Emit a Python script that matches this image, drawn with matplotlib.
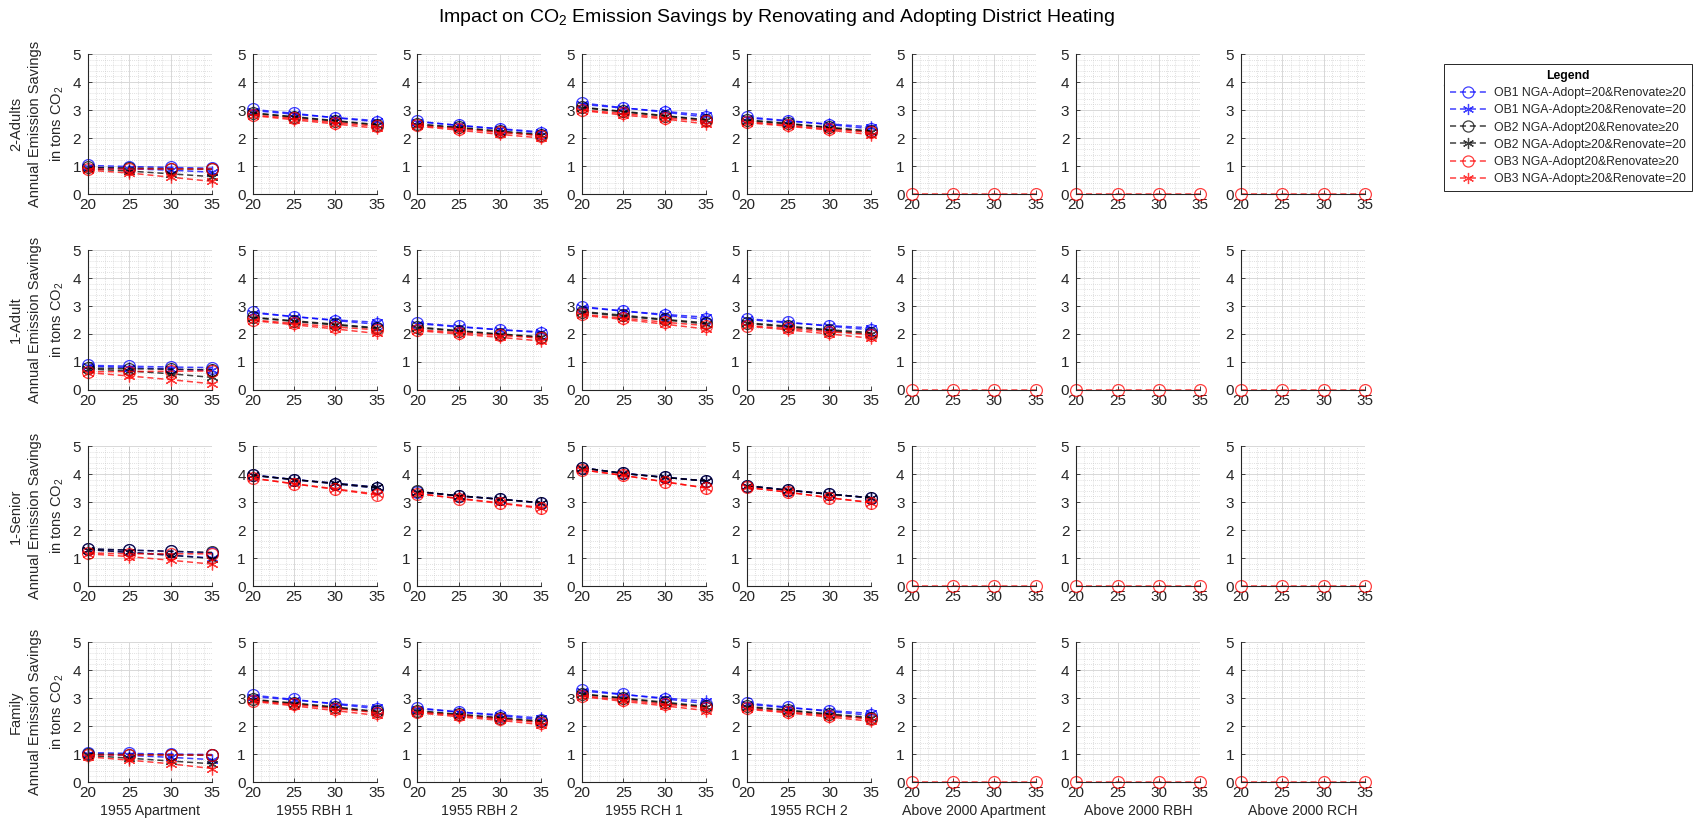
import numpy as np
import matplotlib
matplotlib.use("Agg")
import matplotlib.pyplot as plt
from matplotlib.ticker import MultipleLocator
from matplotlib.lines import Line2D

plt.rcParams['font.family'] = ['Liberation Sans', 'DejaVu Sans']
plt.rcParams['mathtext.fontset'] = 'custom'
plt.rcParams['mathtext.rm'] = 'Liberation Sans'
plt.rcParams['mathtext.it'] = 'Liberation Sans:italic'
plt.rcParams['mathtext.bf'] = 'Liberation Sans:bold'

renovation_years = [20, 25, 30, 35]
households = ['2-Adults', '1-Adult', '1-Senior', 'Family']
buildings = ['1955 Apartment', '1955 RBH 1', '1955 RBH 2', '1955 RCH 1', '1955 RCH 2',
             'Above 2000 Apartment', 'Above 2000 RBH', 'Above 2000 RCH']
series_labels = ['OB1 NGA-Adopt=20&Renovate≥20', 'OB1 NGA-Adopt≥20&Renovate=20',
                 'OB2 NGA-Adopt20&Renovate≥20', 'OB2 NGA-Adopt≥20&Renovate=20',
                 'OB3 NGA-Adopt20&Renovate≥20', 'OB3 NGA-Adopt≥20&Renovate=20']

# Savings [t CO2 / year] per household (rows) and 1955 building (columns)
ob1_adopt20 = [
    [[1.02, 0.98, 0.95, 0.92], [3.02, 2.88, 2.72, 2.58], [2.60, 2.45, 2.32, 2.18], [3.25, 3.08, 2.92, 2.75], [2.75, 2.62, 2.48, 2.33]],
    [[0.88, 0.85, 0.82, 0.80], [2.78, 2.62, 2.48, 2.35], [2.40, 2.27, 2.15, 2.05], [2.98, 2.82, 2.67, 2.52], [2.55, 2.42, 2.28, 2.15]],
    [[1.32, 1.28, 1.24, 1.18], [3.97, 3.80, 3.65, 3.50], [3.37, 3.22, 3.10, 2.97], [4.22, 4.02, 3.88, 3.75], [3.58, 3.42, 3.28, 3.15]],
    [[1.05, 1.02, 1.00, 0.98], [3.10, 2.95, 2.78, 2.62], [2.65, 2.50, 2.37, 2.22], [3.30, 3.13, 2.97, 2.80], [2.82, 2.67, 2.52, 2.38]],
]
ob1_renovate20 = [
    [[0.95, 0.90, 0.85, 0.78], [2.98, 2.85, 2.73, 2.62], [2.58, 2.45, 2.33, 2.22], [3.20, 3.07, 2.95, 2.82], [2.72, 2.60, 2.50, 2.40]],
    [[0.85, 0.80, 0.75, 0.70], [2.75, 2.62, 2.50, 2.42], [2.37, 2.25, 2.15, 2.08], [2.95, 2.82, 2.70, 2.60], [2.52, 2.40, 2.30, 2.22]],
    [[1.30, 1.20, 1.10, 1.00], [3.95, 3.80, 3.67, 3.53], [3.37, 3.22, 3.10, 2.97], [4.22, 4.02, 3.88, 3.75], [3.58, 3.42, 3.28, 3.15]],
    [[1.00, 0.95, 0.88, 0.80], [3.05, 2.93, 2.80, 2.68], [2.62, 2.50, 2.40, 2.28], [3.25, 3.12, 3.00, 2.88], [2.78, 2.65, 2.55, 2.45]],
]
ob2_adopt20 = [
    [[0.95, 0.93, 0.90, 0.88], [2.90, 2.76, 2.62, 2.48], [2.50, 2.38, 2.25, 2.12], [3.10, 2.95, 2.80, 2.65], [2.65, 2.52, 2.38, 2.25]],
    [[0.78, 0.76, 0.74, 0.72], [2.60, 2.47, 2.35, 2.22], [2.25, 2.12, 2.00, 1.90], [2.80, 2.67, 2.52, 2.40], [2.40, 2.28, 2.15, 2.05]],
    [[1.33, 1.28, 1.24, 1.20], [3.96, 3.80, 3.65, 3.50], [3.38, 3.22, 3.10, 2.97], [4.22, 4.02, 3.88, 3.75], [3.58, 3.42, 3.28, 3.15]],
    [[1.00, 0.98, 0.97, 0.95], [2.95, 2.82, 2.68, 2.52], [2.55, 2.42, 2.30, 2.17], [3.15, 3.00, 2.85, 2.70], [2.70, 2.57, 2.43, 2.30]],
]
ob2_renovate20 = [
    [[0.90, 0.82, 0.72, 0.62], [2.88, 2.74, 2.60, 2.46], [2.48, 2.36, 2.22, 2.10], [3.08, 2.93, 2.78, 2.63], [2.62, 2.50, 2.36, 2.22]],
    [[0.75, 0.68, 0.58, 0.45], [2.58, 2.45, 2.32, 2.20], [2.22, 2.10, 1.98, 1.88], [2.78, 2.63, 2.50, 2.36], [2.38, 2.25, 2.12, 2.00]],
    [[1.30, 1.20, 1.10, 0.98], [3.95, 3.80, 3.67, 3.53], [3.37, 3.22, 3.10, 2.97], [4.22, 4.02, 3.88, 3.75], [3.58, 3.42, 3.28, 3.15]],
    [[0.95, 0.85, 0.75, 0.65], [2.93, 2.80, 2.65, 2.50], [2.52, 2.40, 2.27, 2.15], [3.13, 2.98, 2.82, 2.67], [2.67, 2.55, 2.40, 2.27]],
]
ob3_adopt20 = [
    [[0.88, 0.88, 0.88, 0.88], [2.82, 2.70, 2.55, 2.42], [2.45, 2.33, 2.20, 2.08], [3.00, 2.88, 2.72, 2.60], [2.58, 2.45, 2.32, 2.20]],
    [[0.65, 0.66, 0.67, 0.68], [2.50, 2.38, 2.25, 2.15], [2.15, 2.05, 1.95, 1.85], [2.70, 2.57, 2.42, 2.30], [2.30, 2.20, 2.08, 1.98]],
    [[1.18, 1.15, 1.15, 1.15], [3.85, 3.65, 3.45, 3.25], [3.30, 3.12, 2.95, 2.77], [4.15, 3.95, 3.72, 3.50], [3.52, 3.35, 3.15, 2.98]],
    [[0.95, 0.95, 0.95, 0.95], [2.90, 2.77, 2.62, 2.48], [2.50, 2.38, 2.25, 2.12], [3.08, 2.93, 2.78, 2.65], [2.63, 2.50, 2.37, 2.25]],
]
ob3_renovate20 = [
    [[0.85, 0.75, 0.60, 0.45], [2.80, 2.65, 2.50, 2.35], [2.42, 2.28, 2.13, 2.00], [2.98, 2.82, 2.68, 2.50], [2.55, 2.42, 2.28, 2.12]],
    [[0.62, 0.50, 0.37, 0.22], [2.48, 2.33, 2.18, 2.02], [2.12, 2.00, 1.88, 1.75], [2.67, 2.52, 2.35, 2.18], [2.28, 2.15, 2.00, 1.85]],
    [[1.15, 1.05, 0.92, 0.78], [3.85, 3.65, 3.47, 3.28], [3.30, 3.13, 2.97, 2.80], [4.15, 3.95, 3.72, 3.50], [3.52, 3.35, 3.15, 2.98]],
    [[0.90, 0.78, 0.65, 0.48], [2.88, 2.72, 2.55, 2.38], [2.47, 2.33, 2.20, 2.05], [3.05, 2.88, 2.72, 2.55], [2.60, 2.47, 2.32, 2.17]],
]
# Buildings built after 2000: no savings
above_2000_ob3 = [
    [[0, 0, 0, 0], [0, 0, 0, 0], [0, 0, 0, 0]],
    [[0, 0, 0, 0], [0, 0, 0, 0], [0, 0, 0, 0]],
    [[0, 0, 0, 0], [0, 0, 0, 0], [0, 0, 0, 0]],
    [[0, 0, 0, 0], [0, 0, 0, 0], [0, 0, 0, 0]],
]

series_data = [ob1_adopt20, ob1_renovate20, ob2_adopt20, ob2_renovate20, ob3_adopt20, ob3_renovate20]
series_colors = ['#0000ff', '#0000ff', '#000000', '#000000', '#ff0000', '#ff0000']
series_markers = ['o', (6, 2, 0), 'o', (6, 2, 0), 'o', (6, 2, 0)]

W, H = 1694, 825
fig = plt.figure(figsize=(W / 100, H / 100), dpi=100)
fig.patch.set_facecolor('white')

ax_left0, ax_dx, ax_w = 88, 164.7, 124
ax_top0, ax_dy, ax_h = 54, 196, 140
dark = '#262626'


def style_line(i, msize=8.5):
    kw = dict(color=series_colors[i], marker=series_markers[i], linestyle='--',
              dashes=(4, 2.5), linewidth=1.1, markersize=msize, markeredgewidth=0.9,
              alpha=0.75)
    if series_markers[i] == 'o':
        kw['markerfacecolor'] = 'none'
    return kw


for r, hh in enumerate(households):
    for c, bname in enumerate(buildings):
        left = ax_left0 + c * ax_dx
        top = ax_top0 + r * ax_dy
        ax = fig.add_axes([left / W, 1 - (top + ax_h) / H, ax_w / W, ax_h / H])
        if c < 5:
            for i, data in enumerate(series_data):
                ax.plot(renovation_years, data[r][c], clip_on=False, **style_line(i))
        else:
            ax.plot(renovation_years, above_2000_ob3[r][c - 5], clip_on=False, **style_line(4))
        ax.set_xlim(20, 35)
        ax.set_ylim(0, 5)
        ax.set_xticks(renovation_years)
        ax.set_yticks(range(6))
        ax.xaxis.set_minor_locator(MultipleLocator(1))
        ax.yaxis.set_minor_locator(MultipleLocator(0.2))
        ax.grid(which='major', color='#d8d8d8', linewidth=0.7, linestyle='-')
        ax.grid(which='minor', color='#c4c4c4', linewidth=0.5, linestyle=(0, (1, 2)))
        ax.set_axisbelow(True)
        for s in ('top', 'right'):
            ax.spines[s].set_visible(False)
        for s in ('left', 'bottom'):
            ax.spines[s].set_color(dark)
            ax.spines[s].set_linewidth(0.8)
        ax.tick_params(which='major', direction='in', length=3, width=0.6,
                       labelsize=11, colors=dark)
        ax.tick_params(axis='y', pad=5)
        ax.tick_params(axis='x', pad=3)
        ax.tick_params(which='minor', length=0)
        if c == 0:
            ax.set_ylabel(f"{hh}\nAnnual Emission Savings\nin tons CO$_{{2}}$",
                          fontsize=10.5, color=dark, linespacing=1.5, labelpad=4.5)
        if r == len(households) - 1:
            ax.set_xlabel(bname, fontsize=10.2, color=dark, labelpad=3)

fig.suptitle("Impact on CO$_{2}$ Emission Savings by Renovating and Adopting District Heating",
             fontsize=14, x=776 / W, y=1 - 17 / H, va='center', color='black')

handles = [Line2D([], [], **style_line(i, msize=8)) for i in range(len(series_labels))]
leg_left, leg_top, leg_w, leg_h = 1444, 64, 248, 118
leg = fig.legend(handles, series_labels, loc='upper left',
                 bbox_to_anchor=(leg_left / W, 1 - (leg_top + leg_h) / H, leg_w / W, leg_h / H),
                 mode='expand', borderaxespad=0, fontsize=8.8, handlelength=3.0,
                 handletextpad=0.6, labelspacing=0.42, fancybox=False, framealpha=1,
                 edgecolor=dark, title='Legend', borderpad=0.5,
                 title_fontproperties={'weight': 'bold', 'size': 8.8})
leg.get_frame().set_linewidth(0.7)
for t in leg.get_texts():
    t.set_color(dark)

fig.canvas.draw()
renderer = fig.canvas.get_renderer()
tb = leg.get_title().get_window_extent(renderer)
fb = leg.get_frame().get_window_extent(renderer)
sep_y = (tb.y0 - 3) / H
fig.add_artist(Line2D([fb.x0 / W, fb.x1 / W], [sep_y, sep_y], color='#a0a0a0', linewidth=1.0))

fig.savefig('out.png', dpi=100, facecolor='white')
